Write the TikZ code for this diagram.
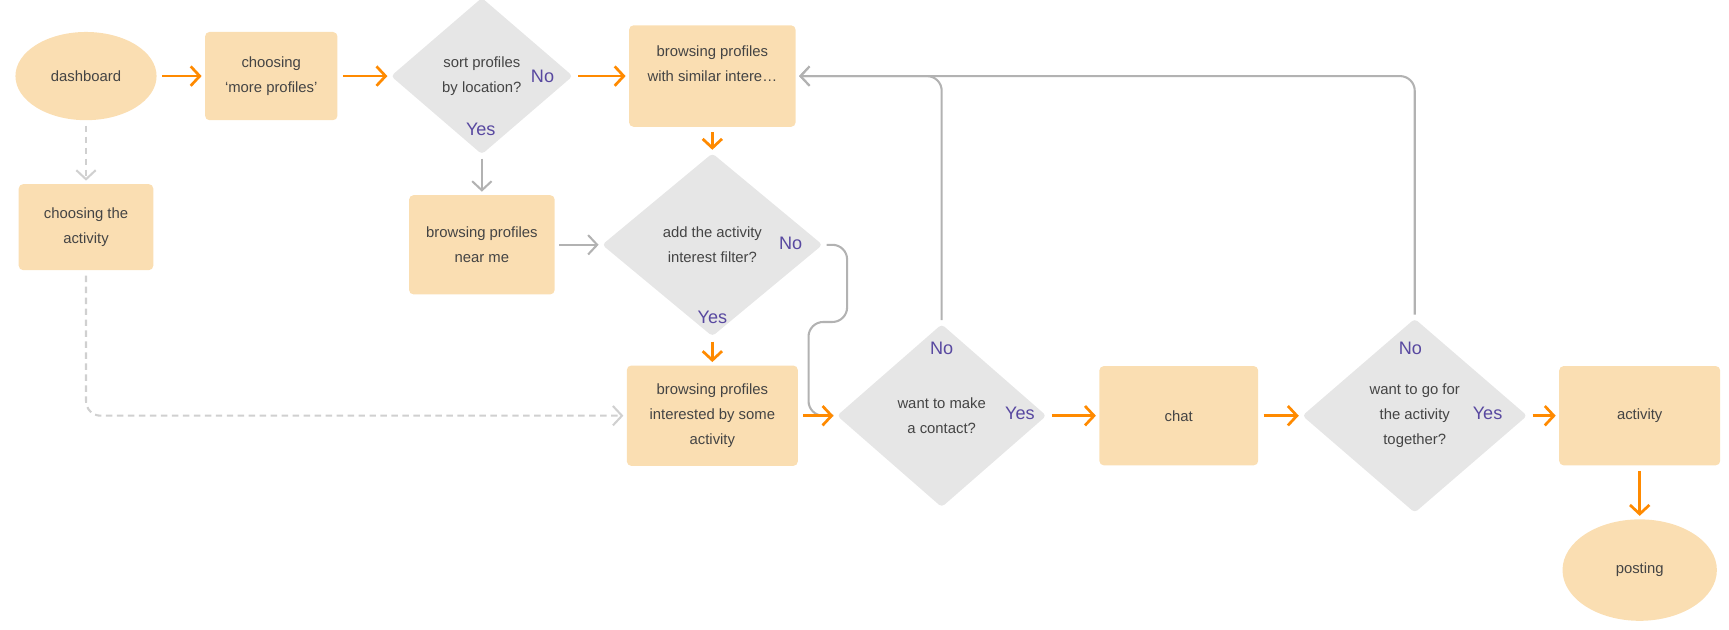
\documentclass[tikz,border=0pt]{standalone}
\usepackage{fontspec}
\setmainfont{Liberation Sans}
\usetikzlibrary{arrows.meta,shapes.geometric}
\definecolor{peach}{RGB}{250,222,178}
\definecolor{stone}{RGB}{230,230,230}
\definecolor{tangerine}{RGB}{255,138,0}
\definecolor{slate}{RGB}{178,178,178}
\definecolor{mist}{RGB}{208,208,208}
\definecolor{ink}{RGB}{68,68,68}
\definecolor{iris}{RGB}{88,72,160}

\begin{document}
\begin{tikzpicture}[x=0.03cm,y=-0.03cm,
    font=\fontsize{11.5}{19.5}\selectfont,text=ink,
    box/.style={fill=peach,rounded corners=1.2mm,align=center,inner sep=0pt},
    oval/.style={ellipse,fill=peach,inner sep=0pt},
    choice/.style={diamond,fill=stone,rounded corners=1mm,align=center,inner sep=0pt},
    answer/.style={text=iris,font=\fontsize{14}{16}\selectfont},
    chevron/.style={-{Straight Barb[length=7pt,width=15pt]}},
    flow/.style={chevron,draw=tangerine,line width=2.1pt,shorten <=4pt,shorten >=2.5pt},
    back/.style={chevron,draw=slate,line width=1.6pt,shorten <=3pt,shorten >=2.5pt,rounded corners=4mm},
    hint/.style={chevron,draw=mist,line width=1.6pt,dash pattern=on 5pt off 3.5pt,shorten <=4pt,shorten >=2.5pt,rounded corners=4mm}]
    \useasboundingbox (0,0) rectangle (1568,571);
    % start and end
    \node[oval,minimum width=128*0.3mm,minimum height=80*0.3mm] (dashboard) at (78,69) {dashboard};
    \node[oval,minimum width=140*0.3mm,minimum height=92*0.3mm] (posting) at (1487,517) {posting};
    % steps
    \foreach \n/\x/\y/\w/\h/\t in {
      more/246/69/120/80/{choosing\\`more profiles'},
      similar/646/69/151/92/{browsing profiles\\with similar intere\dots\\\mbox{}},
      near/437/222/132/90/{browsing profiles\\near me},
      interest/646/377/155/91/{browsing profiles\\interested by some\\activity},
      choose/78/206/122/78/{choosing the\\activity},
      chat/1069/377/144/90/chat,
      activity/1487/377/146/90/activity}
    {
      \node[box,minimum width=\w*0.3mm,minimum height=\h*0.3mm] (\n) at (\x,\y) {\t};
    }
    % questions
    \foreach \n/\x/\y/\w/\h/\t in {
      sort/437/69/165/142/{sort profiles\\by location?},
      filter/646/222/200/166/{add the activity\\interest filter?},
      contact/854/377/190/166/{want to make\\a contact?},
      together/1283/377/204/176/{want to go for\\the activity\\together?}}
    {
      \node[choice,minimum width=\w*0.3mm,minimum height=\h*0.3mm] (\n) at (\x,\y) {\t};
    }
    \foreach \n/\x/\y/\t in {sortno/492/69/No, sortyes/436/117/Yes,
      filterno/717/221/No, filteryes/646/288/Yes,
      contactno/854/316/No, contactyes/925/375/Yes,
      togetherno/1279/316/No, togetheryes/1349/375/Yes}
      \node[answer] (\n) at (\x,\y) {\t};
    % grey side paths
    \draw[back] (sort.south) -- (near.north);
    \draw[back] (near.east) -- (filter.west);
    \draw[back,-] (filter.east) -- ++(22,0) -- ++(0,70) -- ++(-35,0) |- (contact.west);
    \draw[back] (contact.north) |- (similar.east);
    \draw[back] (together.north) |- (similar.east);
    \draw[hint] (dashboard.south) -- (choose.north);
    \draw[hint] (choose.south) |- (interest.west);
    % main path
    \foreach \a/\b in {dashboard.east/more.west, more.east/sort.west,
      sort.east/similar.west, similar.south/filter.north,
      filter.south/interest.north, interest.east/contact.west,
      contact.east/chat.west, chat.east/together.west,
      together.east/activity.west, activity.south/posting.north}
      \draw[flow] (\a) -- (\b);
\end{tikzpicture}
\end{document}
